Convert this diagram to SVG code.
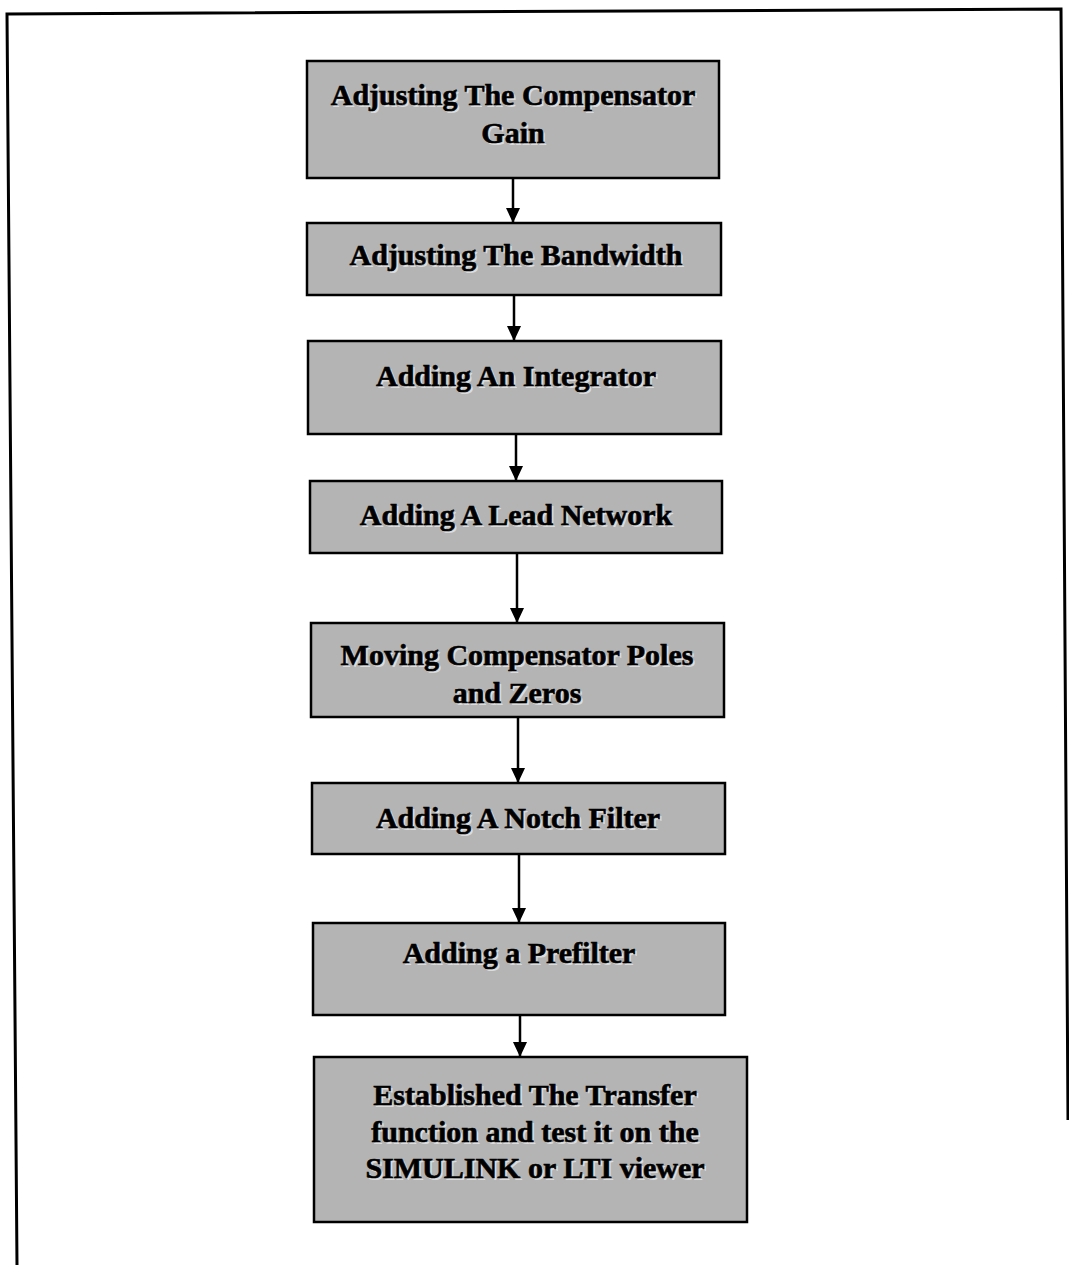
<svg xmlns="http://www.w3.org/2000/svg" width="1069" height="1265" viewBox="0 0 1069 1265">
  <defs>
    <marker id="arrow" viewBox="0 0 15 14" refX="15" refY="7" markerWidth="15" markerHeight="14" markerUnits="userSpaceOnUse" orient="auto">
      <path d="M0,0 L15,7 L0,14 Z" fill="#000"/>
    </marker>
    <style>
      .box { fill: #b4b4b4; stroke: #000; stroke-width: 2.5; }
      .lbl { font-family: "Liberation Serif", "Times New Roman", serif; font-weight: bold; font-size: 30px; fill: #000; stroke: #000; stroke-width: 0.6; text-anchor: middle; }
      .shadow { font-family: "Liberation Serif", "Times New Roman", serif; font-weight: bold; font-size: 30px; fill: #dcdcdc; text-anchor: middle; }
      .conn { stroke: #000; stroke-width: 2.5; fill: none; }
      .frame { stroke: #000; stroke-width: 3; fill: none; }
    </style>
  </defs>
  <rect x="0" y="0" width="1069" height="1265" fill="#fff"/>

  <g id="frame">
    <polyline class="frame" points="17,1265 7,14 1061,9 1068,1120"/>
  </g>

  <g id="connectors">
    <line class="conn" x1="513" y1="178" x2="513" y2="223" marker-end="url(#arrow)"/>
    <line class="conn" x1="514" y1="295" x2="514" y2="341" marker-end="url(#arrow)"/>
    <line class="conn" x1="516" y1="434" x2="516" y2="481" marker-end="url(#arrow)"/>
    <line class="conn" x1="517" y1="553" x2="517" y2="623" marker-end="url(#arrow)"/>
    <line class="conn" x1="518" y1="717" x2="518" y2="783" marker-end="url(#arrow)"/>
    <line class="conn" x1="519" y1="854" x2="519" y2="923" marker-end="url(#arrow)"/>
    <line class="conn" x1="520" y1="1015" x2="520" y2="1057" marker-end="url(#arrow)"/>
  </g>

  <g id="node1">
    <rect class="box" x="307" y="61" width="412" height="117"/>
    <text class="shadow" x="515" y="107">Adjusting The Compensator</text>
    <text class="lbl" x="513" y="105">Adjusting The Compensator</text>
    <text class="shadow" x="515" y="145">Gain</text>
    <text class="lbl" x="513" y="143">Gain</text>
  </g>

  <g id="node2">
    <rect class="box" x="307" y="223" width="414" height="72"/>
    <text class="shadow" x="518" y="267">Adjusting The Bandwidth</text>
    <text class="lbl" x="516" y="265">Adjusting The Bandwidth</text>
  </g>

  <g id="node3">
    <rect class="box" x="308" y="341" width="413" height="93"/>
    <text class="shadow" x="518" y="388">Adding An Integrator</text>
    <text class="lbl" x="516" y="386">Adding An Integrator</text>
  </g>

  <g id="node4">
    <rect class="box" x="310" y="481" width="412" height="72"/>
    <text class="shadow" x="518" y="527">Adding A Lead Network</text>
    <text class="lbl" x="516" y="525">Adding A Lead Network</text>
  </g>

  <g id="node5">
    <rect class="box" x="311" y="623" width="413" height="94"/>
    <text class="shadow" x="519" y="667">Moving Compensator Poles</text>
    <text class="lbl" x="517" y="665">Moving Compensator Poles</text>
    <text class="shadow" x="519" y="705">and Zeros</text>
    <text class="lbl" x="517" y="703">and Zeros</text>
  </g>

  <g id="node6">
    <rect class="box" x="312" y="783" width="413" height="71"/>
    <text class="shadow" x="520" y="830">Adding A Notch Filter</text>
    <text class="lbl" x="518" y="828">Adding A Notch Filter</text>
  </g>

  <g id="node7">
    <rect class="box" x="313" y="923" width="412" height="92"/>
    <text class="shadow" x="521" y="965">Adding a Prefilter</text>
    <text class="lbl" x="519" y="963">Adding a Prefilter</text>
  </g>

  <g id="node8">
    <rect class="box" x="314" y="1057" width="433" height="165"/>
    <text class="shadow" x="537" y="1107">Established The Transfer</text>
    <text class="lbl" x="535" y="1105">Established The Transfer</text>
    <text class="shadow" x="537" y="1144">function and test it on the</text>
    <text class="lbl" x="535" y="1142">function and test it on the</text>
    <text class="shadow" x="537" y="1180">SIMULINK or LTI viewer</text>
    <text class="lbl" x="535" y="1178">SIMULINK or LTI viewer</text>
  </g>
</svg>
